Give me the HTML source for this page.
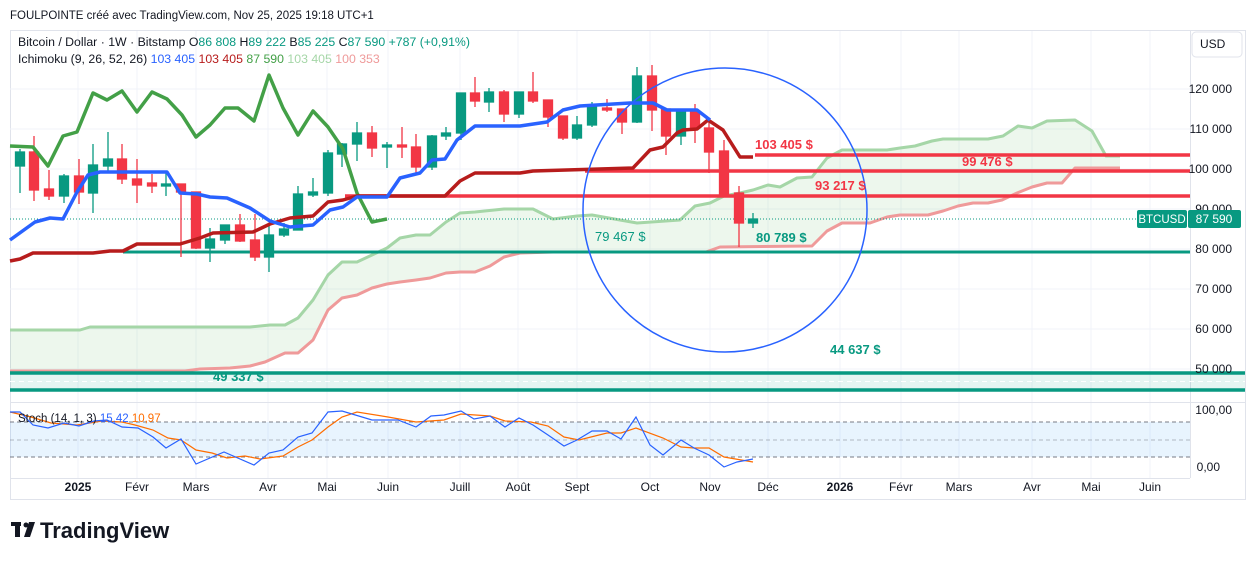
<!DOCTYPE html>
<html><head><meta charset="utf-8"><style>
html,body{margin:0;padding:0;background:#fff;}
svg{display:block;font-family:"Liberation Sans",sans-serif;}
</style></head><body>
<svg width="1257" height="561" viewBox="0 0 1257 561" xmlns="http://www.w3.org/2000/svg">
<rect width="1257" height="561" fill="#fff"/>
<text x="10" y="19" font-size="11.5" fill="#131722">FOULPOINTE créé avec TradingView.com, Nov 25, 2025 19:18 UTC+1</text>
<rect x="10.5" y="30.5" width="1235" height="469" fill="none" stroke="#e0e3eb"/>
<!-- grid -->
<g stroke="#f0f3fa" stroke-width="1">
<line x1="10" y1="89" x2="1190" y2="89"/><line x1="10" y1="129" x2="1190" y2="129"/><line x1="10" y1="169" x2="1190" y2="169"/><line x1="10" y1="209" x2="1190" y2="209"/><line x1="10" y1="249" x2="1190" y2="249"/><line x1="10" y1="289" x2="1190" y2="289"/><line x1="10" y1="329" x2="1190" y2="329"/><line x1="10" y1="369" x2="1190" y2="369"/>
<line x1="78" y1="31" x2="78" y2="478"/><line x1="137" y1="31" x2="137" y2="478"/><line x1="196" y1="31" x2="196" y2="478"/><line x1="268" y1="31" x2="268" y2="478"/><line x1="327" y1="31" x2="327" y2="478"/><line x1="388" y1="31" x2="388" y2="478"/><line x1="460" y1="31" x2="460" y2="478"/><line x1="518" y1="31" x2="518" y2="478"/><line x1="577" y1="31" x2="577" y2="478"/><line x1="650" y1="31" x2="650" y2="478"/><line x1="710" y1="31" x2="710" y2="478"/><line x1="768" y1="31" x2="768" y2="478"/><line x1="840" y1="31" x2="840" y2="478"/><line x1="901" y1="31" x2="901" y2="478"/><line x1="959" y1="31" x2="959" y2="478"/><line x1="1032" y1="31" x2="1032" y2="478"/><line x1="1091" y1="31" x2="1091" y2="478"/><line x1="1150" y1="31" x2="1150" y2="478"/>
</g>
<line x1="1190.5" y1="31" x2="1190.5" y2="478" stroke="#e0e3eb"/>
<!-- cloud fill -->
<polygon fill="rgba(76,175,80,0.1)" points="10,330 80,330 90,327 250,327 270,325 285,325 298,318 313,300 328,275 342,262 357,262 372,255 387,248 400,238 416,235 430,235 446,222 460,213 475,212 504,209 533,209 547,216 553,219 577,216 592,215 620,220 637,223 680,220 695,206 710,203 724,196 740,193 753,190 768,185 780,187 797,178 812,177 827,158 842,150 887,150 900,148 915,146 932,141 943,139 988,139 1003,136 1018,126 1032,128 1047,121 1075,120 1092,131 1106,156 1120,156 1120,168 1075,168 1062,183 1047,183 1032,187 1017,193 1002,200 988,203 973,203 958,206 943,211 928,215 900,215 887,217 870,223 842,223 827,231 812,246 720,247 706,252 553,252 520,253 504,257 490,266 475,272 460,272 446,273 430,278 416,280 400,282 387,284 372,288 357,295 342,298 328,310 313,340 298,353 285,353 265,362 250,366 230,368 200,369 185,371 10,371"/>
<polyline fill="none" stroke="#a5d6a7" stroke-width="3" stroke-linejoin="round" points="10,330 80,330 90,327 250,327 270,325 285,325 298,318 313,300 328,275 342,262 357,262 372,255 387,248 400,238 416,235 430,235 446,222 460,213 475,212 504,209 533,209 547,216 553,219 577,216 592,215 620,220 637,223 680,220 695,206 710,203 724,196 740,193 753,190 768,185 780,187 797,178 812,177 827,158 842,150 887,150 900,148 915,146 932,141 943,139 988,139 1003,136 1018,126 1032,128 1047,121 1075,120 1092,131 1106,156 1120,156"/>
<polyline fill="none" stroke="#ef9a9a" stroke-width="3" stroke-linejoin="round" points="10,371 185,371 200,369 230,368 250,366 265,362 285,353 298,353 313,340 328,310 342,298 357,295 372,288 387,284 400,282 416,280 430,278 446,273 460,272 475,272 490,266 504,257 520,253 553,252 706,252 720,247 812,246 827,231 842,223 870,223 887,217 900,215 928,215 943,211 958,206 973,203 988,203 1002,200 1017,193 1032,187 1047,183 1062,183 1075,168 1120,168"/>
<!-- horizontal levels -->
<rect x="10" y="373" width="1235" height="17" fill="rgba(8,153,129,0.1)"/>
<line x1="10" y1="381.5" x2="1245" y2="381.5" stroke="#fff" stroke-dasharray="5,4" stroke-width="1"/>
<text x="213" y="381" font-size="13" font-weight="bold" fill="#089981">49 337 $</text>
<line x1="10" y1="373" x2="1245" y2="373" stroke="#089981" stroke-width="3.5"/>
<line x1="10" y1="390" x2="1245" y2="390" stroke="#089981" stroke-width="3.5"/>
<line x1="123" y1="252" x2="1190" y2="252" stroke="#089981" stroke-width="3"/>
<line x1="345" y1="196" x2="1190" y2="196" stroke="#f23645" stroke-width="3.5"/>
<line x1="585" y1="171" x2="1190" y2="171" stroke="#f23645" stroke-width="3.5"/>
<line x1="755" y1="155" x2="1190" y2="155" stroke="#f23645" stroke-width="3.5"/>
<line x1="10" y1="219" x2="1190" y2="219" stroke="#089981" stroke-dasharray="1,2" stroke-width="1"/>
<!-- candles -->
<g stroke-width="1.3">
<g stroke="#089981" fill="#089981">
<line x1="20" y1="149" x2="20" y2="193"/><rect x="15.5" y="152" width="9" height="14"/>
<line x1="64" y1="174" x2="64" y2="203"/><rect x="59.5" y="176" width="9" height="20"/>
<line x1="93" y1="144" x2="93" y2="213"/><rect x="88.5" y="165" width="9" height="28"/>
<line x1="108" y1="132" x2="108" y2="171"/><rect x="103.5" y="159" width="9" height="7"/>
<line x1="166" y1="172" x2="166" y2="196"/><rect x="161.5" y="184" width="9" height="2"/>
<line x1="210" y1="228" x2="210" y2="262"/><rect x="205.5" y="239" width="9" height="9"/>
<line x1="225" y1="225" x2="225" y2="244"/><rect x="220.5" y="225" width="9" height="15"/>
<line x1="269" y1="225" x2="269" y2="272"/><rect x="264.5" y="235" width="9" height="22"/>
<line x1="284" y1="223" x2="284" y2="237"/><rect x="279.5" y="229" width="9" height="6"/>
<line x1="298" y1="186" x2="298" y2="230"/><rect x="293.5" y="194" width="9" height="36"/>
<line x1="313" y1="178" x2="313" y2="197"/><rect x="308.5" y="192" width="9" height="3"/>
<line x1="328" y1="150" x2="328" y2="196"/><rect x="323.5" y="153" width="9" height="40"/>
<line x1="342" y1="143" x2="342" y2="167"/><rect x="337.5" y="144" width="9" height="10"/>
<line x1="357" y1="122" x2="357" y2="161"/><rect x="352.5" y="133" width="9" height="11"/>
<line x1="387" y1="142" x2="387" y2="168"/><rect x="382.5" y="145" width="9" height="2"/>
<line x1="432" y1="135" x2="432" y2="170"/><rect x="427.5" y="136" width="9" height="31"/>
<line x1="446" y1="127" x2="446" y2="140"/><rect x="441.5" y="133" width="9" height="3"/>
<line x1="461" y1="93" x2="461" y2="140"/><rect x="456.5" y="93" width="9" height="40"/>
<line x1="489" y1="88" x2="489" y2="112"/><rect x="484.5" y="92" width="9" height="10"/>
<line x1="519" y1="92" x2="519" y2="118"/><rect x="514.5" y="92" width="9" height="22"/>
<line x1="577" y1="116" x2="577" y2="140"/><rect x="572.5" y="125" width="9" height="13"/>
<line x1="592" y1="102" x2="592" y2="127"/><rect x="587.5" y="107" width="9" height="18"/>
<line x1="637" y1="67" x2="637" y2="123"/><rect x="632.5" y="76" width="9" height="46"/>
<line x1="681" y1="112" x2="681" y2="145"/><rect x="676.5" y="112" width="9" height="24"/>
<line x1="753" y1="213" x2="753" y2="228"/><rect x="748.5" y="219" width="9" height="4"/>
</g>
<g stroke="#f23645" fill="#f23645">
<line x1="34" y1="136" x2="34" y2="201"/><rect x="29.5" y="152" width="9" height="38"/>
<line x1="49" y1="170" x2="49" y2="200"/><rect x="44.5" y="189" width="9" height="7"/>
<line x1="79" y1="159" x2="79" y2="204"/><rect x="74.5" y="176" width="9" height="16"/>
<line x1="122" y1="144" x2="122" y2="184"/><rect x="117.5" y="159" width="9" height="20"/>
<line x1="137" y1="159" x2="137" y2="203"/><rect x="132.5" y="179" width="9" height="6"/>
<line x1="152" y1="174" x2="152" y2="193"/><rect x="147.5" y="183" width="9" height="3"/>
<line x1="181" y1="184" x2="181" y2="257"/><rect x="176.5" y="184" width="9" height="8"/>
<line x1="196" y1="192" x2="196" y2="249"/><rect x="191.5" y="192" width="9" height="56"/>
<line x1="240" y1="214" x2="240" y2="242"/><rect x="235.5" y="225" width="9" height="16"/>
<line x1="255" y1="214" x2="255" y2="261"/><rect x="250.5" y="240" width="9" height="17"/>
<line x1="372" y1="126" x2="372" y2="157"/><rect x="367.5" y="133" width="9" height="15"/>
<line x1="402" y1="127" x2="402" y2="158"/><rect x="397.5" y="145" width="9" height="2"/>
<line x1="416" y1="134" x2="416" y2="173"/><rect x="411.5" y="147" width="9" height="20"/>
<line x1="475" y1="77" x2="475" y2="107"/><rect x="470.5" y="93" width="9" height="8"/>
<line x1="504" y1="90" x2="504" y2="122"/><rect x="499.5" y="92" width="9" height="22"/>
<line x1="533" y1="72" x2="533" y2="103"/><rect x="528.5" y="92" width="9" height="9"/>
<line x1="548" y1="100" x2="548" y2="127"/><rect x="543.5" y="100" width="9" height="17"/>
<line x1="563" y1="116" x2="563" y2="140"/><rect x="558.5" y="116" width="9" height="22"/>
<line x1="607" y1="99" x2="607" y2="112"/><rect x="602.5" y="108" width="9" height="2"/>
<line x1="622" y1="109" x2="622" y2="134"/><rect x="617.5" y="109" width="9" height="13"/>
<line x1="652" y1="65" x2="652" y2="131"/><rect x="647.5" y="76" width="9" height="34"/>
<line x1="666" y1="109" x2="666" y2="155"/><rect x="661.5" y="109" width="9" height="27"/>
<line x1="695" y1="104" x2="695" y2="143"/><rect x="690.5" y="112" width="9" height="16"/>
<line x1="709" y1="120" x2="709" y2="173"/><rect x="704.5" y="128" width="9" height="24"/>
<line x1="724" y1="140" x2="724" y2="197"/><rect x="719.5" y="151" width="9" height="44"/>
<line x1="739" y1="186" x2="739" y2="247"/><rect x="734.5" y="193" width="9" height="30"/>
</g>
</g>
<!-- ichimoku lines -->
<polyline fill="none" stroke="#43a047" stroke-width="3.5" stroke-linejoin="round" points="10,146 33,147 48,166 63,136 77,132 93,93 107,100 122,91 137,112 152,92 167,99 182,115 196,137 210,125 225,108 238,108 254,121 269,75 283,108 298,135 313,111 328,127 343,149 357,193 372,222 387,219"/>
<polyline fill="none" stroke="#b71c1c" stroke-width="3.5" stroke-linejoin="round" points="10,261 20,259 33,253 93,253 110,251 123,251 137,244 180,244 200,238 213,233 253,232 270,224 290,218 313,216 328,202 343,200 357,196 445,196 460,181 475,173 520,173 533,171 633,168 650,150 663,147 677,133 683,130 697,129 708,120 723,130 740,157 753,157"/>
<polyline fill="none" stroke="#2962ff" stroke-width="3.5" stroke-linejoin="round" points="10,240 35,222 50,218 63,219 77,192 88,175 100,172 167,172 180,193 197,194 210,197 227,198 250,208 270,221 290,227 313,225 330,210 343,207 357,197 387,197 400,178 420,173 432,160 445,159 457,140 475,126 520,126 547,122 563,110 580,106 630,103 653,103 667,110 697,110 710,120"/>
<!-- circle -->
<circle cx="725" cy="210" r="142" fill="none" stroke="#2962ff" stroke-width="1.5"/>
<!-- labels -->
<g font-size="13" font-weight="bold">
<text x="755" y="149" fill="#f23645">103 405 $</text>
<text x="962" y="166" fill="#f23645">99 476 $</text>
<text x="815" y="190" fill="#f23645">93 217 $</text>
<text x="595" y="241" fill="#089981" font-weight="normal">79 467 $</text>
<text x="756" y="242" fill="#089981">80 789 $</text>
<text x="830" y="354" fill="#089981">44 637 $</text>
</g>
<!-- legend -->
<g font-size="12.3">
<text x="18" y="46" fill="#131722">Bitcoin / Dollar · 1W · Bitstamp <tspan>O</tspan><tspan fill="#089981">86 808</tspan> <tspan>H</tspan><tspan fill="#089981">89 222</tspan> <tspan>B</tspan><tspan fill="#089981">85 225</tspan> <tspan>C</tspan><tspan fill="#089981">87 590</tspan> <tspan fill="#089981">+787 (+0,91%)</tspan></text>
<text x="18" y="63" fill="#131722">Ichimoku (9, 26, 52, 26) <tspan fill="#2962ff">103 405</tspan> <tspan fill="#b71c1c">103 405</tspan> <tspan fill="#43a047">87 590</tspan> <tspan fill="#a5d6a7">103 405</tspan> <tspan fill="#ef9a9a">100 353</tspan></text>
</g>
<!-- right axis -->
<rect x="1192" y="32" width="50" height="25" rx="4" fill="#fff" stroke="#e0e3eb"/>
<text x="1200" y="48" font-size="12" fill="#131722">USD</text>
<g font-size="12" fill="#131722" text-anchor="end">
<text x="1232" y="93">120 000</text><text x="1232" y="133">110 000</text><text x="1232" y="173">100 000</text><text x="1232" y="213">90 000</text><text x="1232" y="253">80 000</text><text x="1232" y="293">70 000</text><text x="1232" y="333">60 000</text><text x="1232" y="373">50 000</text>
<text x="1232" y="414">100,00</text><text x="1220" y="471">0,00</text>
</g>
<rect x="1137" y="210" width="50" height="18" rx="2" fill="#089981"/>
<rect x="1188" y="210" width="53" height="18" rx="2" fill="#089981"/>
<text x="1162" y="223" font-size="11.5" fill="#fff" text-anchor="middle">BTCUSD</text>
<text x="1214" y="223" font-size="12" fill="#fff" text-anchor="middle">87 590</text>
<!-- stoch pane -->
<line x1="10" y1="402.5" x2="1245" y2="402.5" stroke="#e0e3eb"/>
<rect x="10" y="422" width="1180" height="35" fill="rgba(33,150,243,0.1)"/>
<g stroke="#787b86" stroke-dasharray="4,3" stroke-width="1">
<line x1="10" y1="422" x2="1190" y2="422"/><line x1="10" y1="440" x2="1190" y2="440" stroke-opacity="0.5"/><line x1="10" y1="457" x2="1190" y2="457"/>
</g>
<polyline fill="none" stroke="#ff6d00" stroke-width="1.2" points="10,412 31,417 51,423 77,425 102,421 122,422 135,425 153,430 168,438 181,440 196,450 212,453 227,458 245,456 260,459 283,456 298,447 312,440 328,427 342,417 357,412 388,417 416,422 444,420 461,414 490,416 505,421 531,422 548,426 564,437 579,440 607,433 621,433 636,428 663,438 681,447 694,448 709,448 724,457 753,462"/>
<polyline fill="none" stroke="#2962ff" stroke-width="1.2" points="10,412 20,412 33,425 48,428 64,423 79,426 94,421 107,420 122,427 138,428 153,437 166,448 181,439 196,464 224,452 254,465 269,453 283,450 298,437 312,433 328,412 342,411 372,420 398,420 416,427 431,416 444,415 461,411 474,419 490,416 505,427 519,418 533,425 548,435 564,446 577,440 592,431 607,431 621,439 636,417 650,445 663,455 681,440 694,448 709,455 724,467 737,462 753,459"/>
<text x="18" y="422" font-size="11.5" fill="#131722">Stoch (14, 1, 3) <tspan fill="#2962ff">15,42</tspan> <tspan fill="#ff6d00">10,97</tspan></text>
<!-- time axis -->
<line x1="10" y1="478.5" x2="1190" y2="478.5" stroke="#e0e3eb"/>
<g font-size="12" fill="#131722" text-anchor="middle">
<text x="78" y="491" font-weight="bold">2025</text><text x="137" y="491">Févr</text><text x="196" y="491">Mars</text><text x="268" y="491">Avr</text><text x="327" y="491">Mai</text><text x="388" y="491">Juin</text><text x="460" y="491">Juill</text><text x="518" y="491">Août</text><text x="577" y="491">Sept</text><text x="650" y="491">Oct</text><text x="710" y="491">Nov</text><text x="768" y="491">Déc</text><text x="840" y="491" font-weight="bold">2026</text><text x="901" y="491">Févr</text><text x="959" y="491">Mars</text><text x="1032" y="491">Avr</text><text x="1091" y="491">Mai</text><text x="1150" y="491">Juin</text>
</g>
<!-- logo -->
<g fill="#131722">
<rect x="11" y="522" width="10" height="4"/><rect x="15" y="522" width="5" height="15"/>
<circle cx="26" cy="525" r="2.5"/>
<polygon points="29,522 35,522 30,537 24,537"/>
</g>
<text x="40" y="538" font-size="22" font-weight="bold" fill="#131722">TradingView</text>
</svg>
</body></html>
